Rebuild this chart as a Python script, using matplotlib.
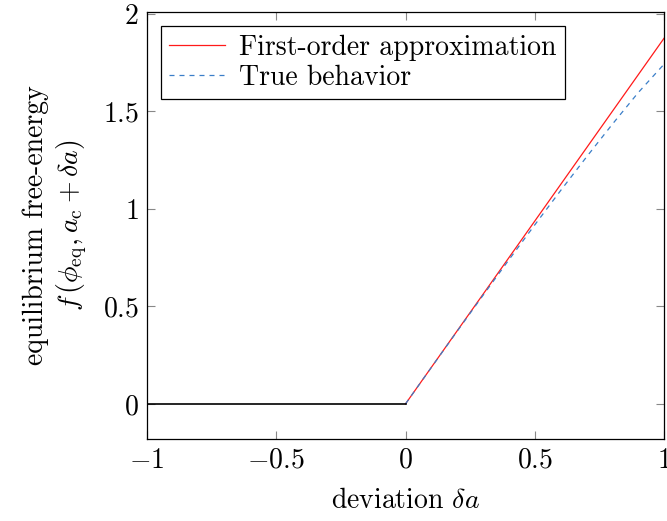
import matplotlib
matplotlib.use("Agg")
import matplotlib.pyplot as plt

plt.rcParams['font.family'] = 'serif'
plt.rcParams['font.serif'] = ['cmr10']
plt.rcParams['mathtext.fontset'] = 'cm'
plt.rcParams['axes.formatter.use_mathtext'] = True
plt.rcParams['axes.unicode_minus'] = True

# data
x_neg = [-1.0, 0.0]
y_neg = [0.0, 0.0]
x_pos = [0.0, 0.1, 0.2, 0.3, 0.4, 0.5, 0.6, 0.7, 0.8, 0.9, 1.0]
first_order = [0.0, 0.1875, 0.375, 0.5625, 0.75, 0.9375, 1.125, 1.3125, 1.5, 1.6875, 1.875]
true_behavior = [0.0, 0.187, 0.373, 0.557, 0.739, 0.918, 1.094, 1.266, 1.434, 1.596, 1.742]

fig = plt.figure(figsize=(6.67, 5.21), dpi=100)
ax = fig.add_axes([0.2204, 0.1574, 0.7751, 0.8196])

ax.plot(x_pos, first_order, color='#ff1a1a', lw=0.9, label='First-order approximation')
ax.plot(x_pos, true_behavior, color='#3a7ec8', lw=0.9, ls=(0, (4, 4)), label='True behavior')
ax.plot(x_neg, y_neg, color='black', lw=1.2)

ax.set_xlim(-1, 1)
ax.set_ylim(-0.18, 2.01)
ax.set_xticks([-1, -0.5, 0, 0.5, 1])
ax.set_yticks([0, 0.5, 1, 1.5, 2])
ax.set_xticklabels(['$-1$', '$-0.5$', '$0$', '$0.5$', '$1$'])
ax.set_yticklabels(['$0$', '$0.5$', '$1$', '$1.5$', '$2$'])
ax.tick_params(direction='in', length=6, width=0.8, color='#888888',
               top=True, right=True, labelsize=20, pad=6)
for s in ax.spines.values():
    s.set_linewidth(0.9)

ax.set_xlabel(r'deviation $\delta a$', fontsize=20, labelpad=10)
ax.set_ylabel('equilibrium free-energy\n' + r'$f\,(\phi_{\rm eq}, a_{\rm c} + \delta a)$',
              fontsize=20, labelpad=10)

leg = ax.legend(loc='upper left', fontsize=20, frameon=True, fancybox=False,
                edgecolor='black', framealpha=1, handlelength=2.0,
                borderaxespad=0.5, labelspacing=0.15, handletextpad=0.5,
                borderpad=0.3)
leg.get_frame().set_linewidth(0.9)

fig.savefig('out.png', dpi=100)
